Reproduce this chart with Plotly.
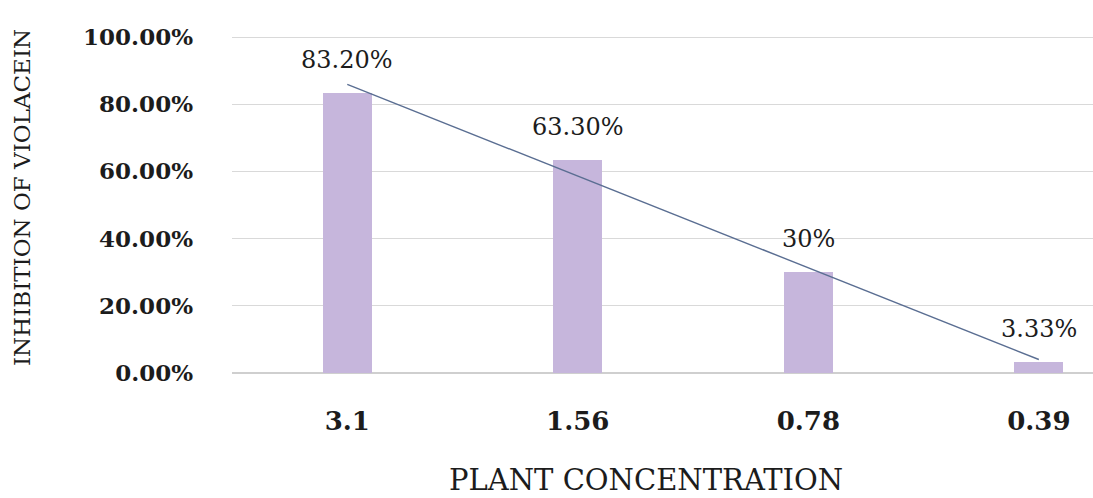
import numpy as np
import plotly.graph_objects as go

# Plant concentration categories and violacein inhibition (fractions)
concentrations = ["3.1", "1.56", "0.78", "0.39"]
inhibition = [0.832, 0.633, 0.30, 0.0333]
value_labels = ["83.20%", "63.30%", "30%", "3.33%"]
y_ticks = [0.0, 0.2, 0.4, 0.6, 0.8, 1.0]

# Linear trend fitted over the category order
idx = np.arange(len(concentrations))
slope, intercept = np.polyfit(idx, inhibition, 1)
trend = slope * idx + intercept

BAR_COLOR = "#c6b6dc"
TREND_COLOR = "#5a6e92"
TEXT_COLOR = "#1c1c1c"
SERIF = "DejaVu Serif"

fig = go.Figure()

fig.add_trace(go.Bar(
    x=concentrations,
    y=inhibition,
    width=0.213,
    marker=dict(color=BAR_COLOR, line=dict(width=0)),
    hoverinfo="skip",
    showlegend=False,
))

fig.add_trace(go.Scatter(
    x=concentrations,
    y=trend,
    mode="lines",
    line=dict(color=TREND_COLOR, width=1.4),
    hoverinfo="skip",
    showlegend=False,
))

# Value labels above each bar (category axis positions are indices)
annotations = []
for i, (val, lab) in enumerate(zip(inhibition, value_labels)):
    annotations.append(dict(
        x=i, y=val, xref="x", yref="y",
        text=lab, showarrow=False,
        yshift=33, yanchor="middle", xanchor="center",
        font=dict(family=SERIF, size=24, color=TEXT_COLOR),
    ))

# Axis titles
annotations.append(dict(
    x=0.481, y=0, xref="paper", yref="paper",
    text="PLANT CONCENTRATION", showarrow=False,
    yshift=-107, yanchor="middle", xanchor="center",
    font=dict(family=SERIF, size=29, color=TEXT_COLOR),
))
annotations.append(dict(
    x=0, y=0.519, xref="paper", yref="paper",
    text="INHIBITION OF VIOLACEIN", showarrow=False,
    xshift=-210, textangle=-90, yanchor="middle", xanchor="center",
    font=dict(family=SERIF, size=23, color=TEXT_COLOR),
))

fig.update_layout(
    width=1093,
    height=498,
    autosize=False,
    margin=dict(l=232, r=0, t=36, b=125, pad=0),
    paper_bgcolor="white",
    plot_bgcolor="white",
    bargap=0,
    annotations=annotations,
    xaxis=dict(
        type="category",
        range=[-0.5, 3.235],
        showgrid=False,
        zeroline=False,
        showline=False,
        ticks="",
        ticklabelstandoff=30,
        tickfont=dict(family=SERIF, size=26, color=TEXT_COLOR, weight="bold"),
        fixedrange=True,
    ),
    yaxis=dict(
        range=[0, 1.003],
        tickvals=y_ticks,
        tickformat=".2%",
        showgrid=True,
        gridcolor="#d9d9d9",
        gridwidth=1,
        zeroline=True,
        zerolinecolor="#cfcfcf",
        zerolinewidth=1.5,
        showline=False,
        ticks="",
        ticklabelstandoff=38,
        tickfont=dict(family=SERIF, size=23, color=TEXT_COLOR, weight="bold"),
        fixedrange=True,
    ),
)

fig.write_html("out.html")
